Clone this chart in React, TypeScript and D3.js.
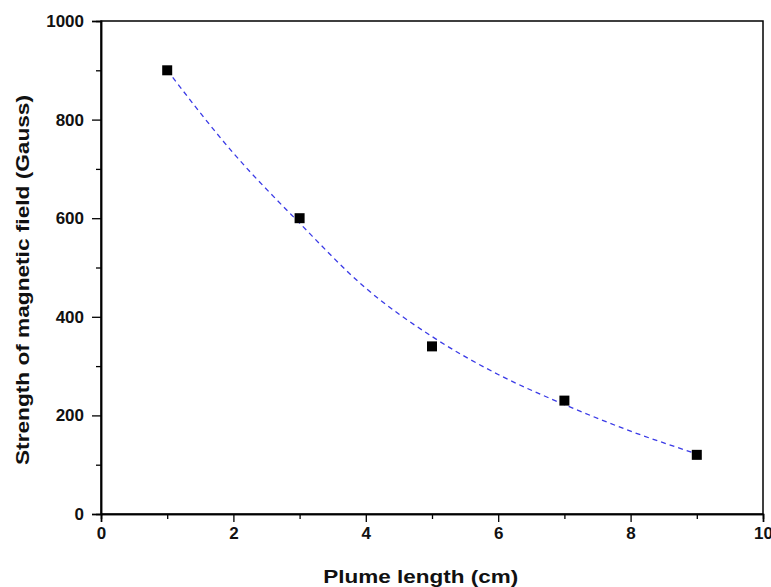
import { useEffect, useRef } from "react";
import * as d3 from "d3";

const plumeLength = [1, 3, 5, 7, 9];
const fieldStrength = [900, 600, 340, 230, 120];

// dashed fit curve
const fitX = [1, 2, 3, 4, 5, 6, 7, 8, 9];
const fitY = [900, 732, 590, 458, 360, 283, 222, 168, 122];

const xTicks = [0, 2, 4, 6, 8, 10];
const xMinor = [1, 3, 5, 7, 9];
const yTicks = [0, 200, 400, 600, 800, 1000];
const yMinor = [100, 300, 500, 700, 900];

export default function App() {
  const svgRef = useRef<SVGSVGElement | null>(null);

  useEffect(() => {
    const W = 771, H = 587;
    const margin = { top: 21, right: 8, bottom: 73, left: 101 };
    const width = W - margin.left - margin.right;
    const height = H - margin.top - margin.bottom;
    const font = "'Liberation Sans', Arial, sans-serif";

    const svg = d3.select(svgRef.current).attr("width", W).attr("height", H);
    svg.selectAll("*").remove();
    svg.append("rect").attr("width", W).attr("height", H).attr("fill", "#fff");

    const g = svg.append("g").attr("transform", `translate(${margin.left},${margin.top})`);

    const x = d3.scaleLinear().domain([0, 10]).range([0, width]);
    const y = d3.scaleLinear().domain([0, 1000]).range([height, 0]);

    // frame
    g.append("rect")
      .attr("width", width).attr("height", height)
      .attr("fill", "none").attr("stroke", "#000").attr("stroke-width", 1.5);

    const xAxis = g.append("g").attr("transform", `translate(0,${height})`)
      .call(d3.axisBottom(x).tickValues(xTicks).tickSize(8).tickPadding(5).tickFormat(d3.format("d")));
    g.append("g").attr("transform", `translate(0,${height})`)
      .call(d3.axisBottom(x).tickValues(xMinor).tickSize(5).tickFormat(() => ""));

    const yAxis = g.append("g")
      .call(d3.axisLeft(y).tickValues(yTicks).tickSize(9).tickPadding(8).tickFormat(d3.format("d")));
    g.append("g")
      .call(d3.axisLeft(y).tickValues(yMinor).tickSize(5).tickFormat(() => ""));

    g.selectAll(".domain").attr("stroke-width", 1.5);
    g.selectAll(".tick line").attr("stroke-width", 1.3);
    [xAxis, yAxis].forEach(a => a.selectAll("text")
      .style("font-family", font).style("font-weight", "bold").style("font-size", "17px")
      .attr("fill", "#111"));

    // fit curve
    const line = d3.line<number>()
      .x((_, i) => x(fitX[i]))
      .y(d => y(d))
      .curve(d3.curveMonotoneX);
    g.append("path")
      .datum(fitY)
      .attr("d", line)
      .attr("fill", "none")
      .attr("stroke", "#3a3ae6")
      .attr("stroke-width", 1.3)
      .attr("stroke-dasharray", "5 4");

    // data points
    const s = 10;
    g.selectAll(".pt").data(plumeLength).join("rect")
      .attr("class", "pt")
      .attr("x", d => x(d) - s / 2)
      .attr("y", (_, i) => y(fieldStrength[i]) - s / 2)
      .attr("width", s).attr("height", s)
      .attr("fill", "#000");

    // axis titles
    svg.append("text")
      .attr("x", margin.left + width * 0.483)
      .attr("y", 583)
      .attr("text-anchor", "middle")
      .attr("textLength", 195)
      .attr("lengthAdjust", "spacingAndGlyphs")
      .style("font-family", font).style("font-weight", "bold").style("font-size", "19px")
      .attr("fill", "#111")
      .text("Plume length (cm)");

    svg.append("text")
      .attr("transform", `translate(29,280) rotate(-90)`)
      .attr("text-anchor", "middle")
      .attr("textLength", 370)
      .attr("lengthAdjust", "spacingAndGlyphs")
      .style("font-family", font).style("font-weight", "bold").style("font-size", "19px")
      .attr("fill", "#111")
      .text("Strength of magnetic field (Gauss)");
  }, []);

  return (
    <div style={{ position: "absolute", left: 0, top: 0 }}>
      <svg ref={svgRef} style={{ display: "block" }}></svg>
    </div>
  );
}
